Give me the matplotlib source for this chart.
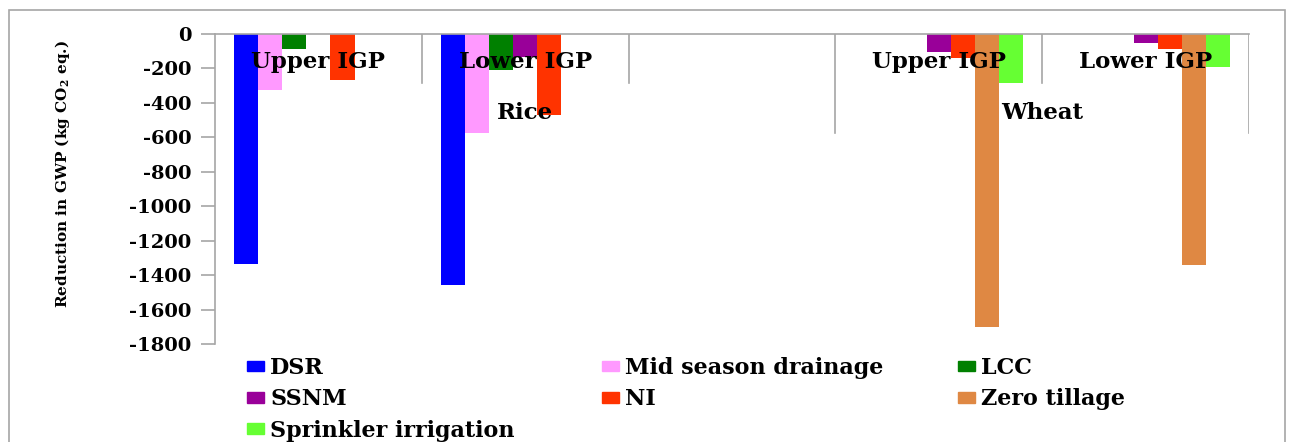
import numpy as np
import matplotlib
matplotlib.use("Agg")
import matplotlib.pyplot as plt
from matplotlib.patches import Rectangle, Patch
from matplotlib.transforms import blended_transform_factory

plt.rcParams['font.family'] = ['DejaVu Serif']
plt.rcParams['font.weight'] = 'bold'
plt.rcParams['mathtext.fontset'] = 'dejavuserif'
plt.rcParams['axes.unicode_minus'] = False

# slots on the category axis (third Rice slot is empty in the original)
slot_labels = ["Upper IGP", "Lower IGP", "", "Upper IGP", "Lower IGP"]
groups = ["Rice", "Wheat"]
group_spans = [(0, 2), (3, 4)]   # first / last slot index of each group

series = ["DSR", "Mid season drainage", "LCC", "SSNM", "NI",
          "Zero tillage", "Sprinkler irrigation"]
nan = np.nan
dsr       = [-1335, -1455, nan, nan, nan]
mid_drain = [-325, -573, nan, nan, nan]
lcc       = [-89, -209, nan, nan, nan]
ssnm      = [nan, -135, nan, -106, -54]
ni        = [-267, -470, nan, -139, -87]
zero_till = [nan, nan, nan, -1700, -1340]
sprinkler = [nan, nan, nan, -283, -190]
values = [dsr, mid_drain, lcc, ssnm, ni, zero_till, sprinkler]

colors = ["#0000FF", "#FF99FF", "#008000", "#990099", "#FF3300",
          "#DF8843", "#66FF33"]

fig = plt.figure(figsize=(12.94, 4.42), dpi=100)
ax = fig.add_axes([215/1294, 1 - 344/442, (1249 - 215)/1294, 310/442])

x = np.arange(len(slot_labels))
w = 0.117
for i, (name, vals, c) in enumerate(zip(series, values, colors)):
    ax.bar(x + (i - 3) * w, vals, w, color=c, label=name)

ax.set_xlim(-0.5, len(slot_labels) - 0.5)
ax.set_ylim(-1800, 0)
ax.set_yticks(np.arange(-1800, 1, 200))
ax.set_xticks([])

grey = "#A6A6A6"
for s in ["right", "bottom"]:
    ax.spines[s].set_visible(False)
for s in ["left", "top"]:
    ax.spines[s].set_color(grey)
    ax.spines[s].set_linewidth(1.2)
ax.tick_params(axis='y', direction='out', length=10, width=1.2, color=grey,
               labelsize=14, pad=7)
for lab in ax.get_yticklabels():
    lab.set_fontweight('bold')

ax.set_ylabel(r"Reduction in GWP (kg CO$_\mathbf{2}$ eq.)", fontsize=11,
              fontweight='bold')
ax.yaxis.set_label_coords(-0.138, 0.548)

# multi-level category axis: separators and labels below the zero line
outer = {-0.5, 2.5, 4.5}
for b in np.arange(-0.5, len(slot_labels)):
    if b == -0.5:
        continue
    ymin = 0.681 if b in outer else 0.842
    ax.axvline(b, ymin=ymin, ymax=1, color=grey, lw=1.2)

tr = blended_transform_factory(ax.transData, ax.transAxes)
for xi, lab in zip(x, slot_labels):
    if lab:
        ax.text(xi, 0.91, lab, transform=tr, ha='center', va='center',
                fontsize=16.5, fontweight='bold')
for g, (a, b) in zip(groups, group_spans):
    ax.text((a + b) / 2, 0.745, g, transform=tr, ha='center', va='center',
            fontsize=16.5, fontweight='bold')

# legend: three columns laid out row-wise like the original
handles = [Patch(color=c) for c in colors]
cols = [[0, 3, 6], [1, 4], [2, 5]]
col_x = [247, 602, 958]
for idx, cx in zip(cols, col_x):
    fig.legend([handles[k] for k in idx], [series[k] for k in idx],
               loc='upper left', bbox_to_anchor=(cx/1294, 1 - 357/442),
               frameon=False, fontsize=16, handlelength=0.75, handleheight=0.36,
               handletextpad=0.3, labelspacing=0.42, borderpad=0, borderaxespad=0)

# outer chart border
fig.patches.append(Rectangle((9/1294, -0.02), (1285 - 9)/1294, 1 - 10/442 + 0.02,
                             transform=fig.transFigure, fill=False,
                             edgecolor=grey, lw=1.2))

fig.savefig("out.png", dpi=100)
